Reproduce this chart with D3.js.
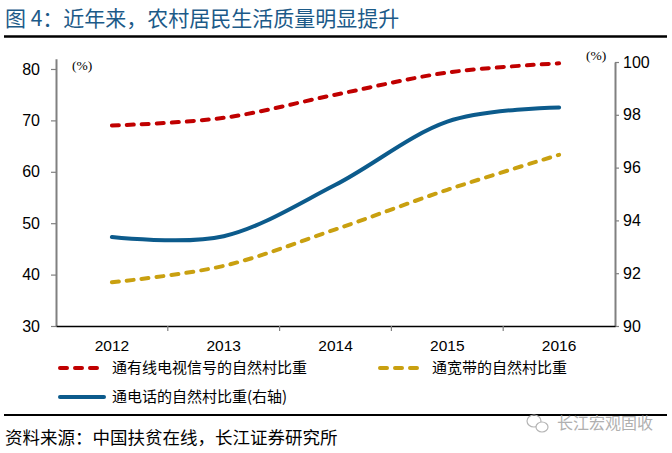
<!DOCTYPE html>
<html><head><meta charset="utf-8">
<script src="https://cdn.jsdelivr.net/npm/d3@7"></script>
<style>
html,body{margin:0;padding:0;background:#fff;}
svg{display:block;}
</style></head>
<body>
<svg id="c" width="672" height="453"></svg>
<script>
const years = ["2012","2013","2014","2015","2016"];
const tvSignal = [69.0, 70.5, 75.0, 79.3, 81.1];      // 通有线电视信号 (left)
const broadband = [38.5, 41.7, 48.8, 56.5, 63.3];     // 通宽带 (left)
const telephone = [93.37, 93.4, 95.35, 97.74, 98.28]; // 通电话 (right)
const leftTicks = [30, 40, 50, 60, 70, 80];
const rightTicks = [90, 92, 94, 96, 98, 100];
const titleText = "图 4：近年来，农村居民生活质量明显提升";
const sourceText = "资料来源：中国扶贫在线，长江证券研究所";
const legendLabels = ["通有线电视信号的自然村比重", "通宽带的自然村比重", "通电话的自然村比重(右轴)"];

const cRed = "#C00000", cGold = "#C9A010", cBlue = "#0C5B8C";
const cjk = "'Noto Sans CJK SC', sans-serif";
const num = "'Liberation Sans', Arial, sans-serif";

const svg = d3.select("#c");

// Title
svg.append("text").attr("x", 5).attr("y", 26)
  .attr("font-family", cjk).attr("font-size", 21).attr("fill", "#1C5A88")
  .text(titleText);
svg.append("line").attr("x1", 4).attr("x2", 667).attr("y1", 36.5).attr("y2", 36.5)
  .attr("stroke", "#000").attr("stroke-width", 2.5);

// Scales
const x = d3.scaleBand().domain(years).range([56, 615]).padding(0);
const cx = d => x(d) + x.bandwidth() / 2;
const yL = d3.scaleLinear().domain([30, 82]).range([326, 58.7]);
const yR = d3.scaleLinear().domain([90, 100]).range([326, 62]);

// Left axis
const gL = svg.append("g").attr("transform", "translate(56,0)")
  .call(d3.axisLeft(yL).tickValues(leftTicks).tickSize(5).tickSizeOuter(0).tickPadding(11));
gL.select(".domain").attr("stroke", "#808080").attr("stroke-width", 2);
gL.selectAll(".tick line").attr("stroke", "#808080").attr("stroke-width", 1.2);
gL.selectAll(".tick text").attr("font-family", num).attr("font-size", 16).attr("fill", "#000");

// Right axis
const gR = svg.append("g").attr("transform", "translate(615,0)")
  .call(d3.axisRight(yR).tickValues(rightTicks).tickSize(4).tickSizeOuter(0).tickPadding(4));
gR.select(".domain").attr("stroke", "#808080").attr("stroke-width", 2);
gR.selectAll(".tick line").attr("stroke", "#808080").attr("stroke-width", 1.2);
gR.selectAll(".tick text").attr("font-family", num).attr("font-size", 16).attr("fill", "#000");

// Bottom axis
const gB = svg.append("g").attr("transform", "translate(0,326)")
  .call(d3.axisBottom(x).tickSize(0).tickSizeOuter(0).tickPadding(14));
gB.select(".domain").attr("stroke", "#000").attr("stroke-width", 1.5);
gB.selectAll(".tick text").attr("font-family", num).attr("font-size", 15.5).attr("fill", "#000");
gB.selectAll(".bt").data(years.slice(1)).enter().append("line")
  .attr("x1", d => x(d)).attr("x2", d => x(d)).attr("y1", 0).attr("y2", 5)
  .attr("stroke", "#808080").attr("stroke-width", 1.2);

// Unit labels
svg.append("text").attr("x", 72).attr("y", 70).attr("font-family", "'Liberation Serif', serif")
  .attr("font-size", 13.5).text("(%)");
svg.append("text").attr("x", 586).attr("y", 60).attr("font-family", "'Liberation Serif', serif")
  .attr("font-size", 13.5).text("(%)");

// Lines
const curve = d3.curveCardinal.tension(0);
const lineL = d3.line().x((d, i) => cx(years[i])).y(d => yL(d)).curve(curve);
const lineR = d3.line().x((d, i) => cx(years[i])).y(d => yR(d)).curve(curve);

svg.append("path").datum(broadband).attr("d", lineL).attr("fill", "none")
  .attr("stroke", cGold).attr("stroke-width", 4).attr("stroke-dasharray", "7,8").attr("stroke-linecap", "round");
svg.append("path").datum(tvSignal).attr("d", lineL).attr("fill", "none")
  .attr("stroke", cRed).attr("stroke-width", 4).attr("stroke-dasharray", "7,8").attr("stroke-linecap", "round");
svg.append("path").datum(telephone).attr("d", lineR).attr("fill", "none")
  .attr("stroke", cBlue).attr("stroke-width", 4).attr("stroke-linecap", "round");

// Legend
const legend = [
  {x: 58, y: 368, c: cRed, dash: "7,8", label: legendLabels[0]},
  {x: 378, y: 368, c: cGold, dash: "7,8", label: legendLabels[1]},
  {x: 58, y: 397, c: cBlue, dash: null, label: legendLabels[2]}
];
legend.forEach(l => {
  svg.append("line").attr("x1", l.x + 2).attr("x2", l.x + 46).attr("y1", l.y).attr("y2", l.y)
    .attr("stroke", l.c).attr("stroke-width", 4).attr("stroke-linecap", "round")
    .attr("stroke-dasharray", l.dash);
  svg.append("text").attr("x", l.x + 54).attr("y", l.y).attr("dy", "0.36em")
    .attr("font-family", cjk).attr("font-size", 15).attr("fill", "#000").text(l.label);
});

// Bottom separator and source
svg.append("line").attr("x1", 4).attr("x2", 667).attr("y1", 415).attr("y2", 415)
  .attr("stroke", "#000").attr("stroke-width", 2);
svg.append("text").attr("x", 5).attr("y", 438).attr("dy", "0.36em")
  .attr("font-family", cjk).attr("font-size", 17.5).attr("fill", "#000").text(sourceText);

// Watermark
const wm = svg.append("g").attr("fill", "none").attr("stroke", "#b5b5b5").attr("stroke-width", 1.2);
wm.append("ellipse").attr("cx", 534).attr("cy", 421).attr("rx", 7).attr("ry", 6);
wm.append("ellipse").attr("cx", 542).attr("cy", 427).attr("rx", 6).attr("ry", 5).attr("fill", "#fff");
svg.append("text").attr("x", 557).attr("y", 423).attr("dy", "0.36em")
  .attr("font-family", cjk).attr("font-size", 16).attr("fill", "#b0b0b0").text("长江宏观固收");
</script>
</body></html>
